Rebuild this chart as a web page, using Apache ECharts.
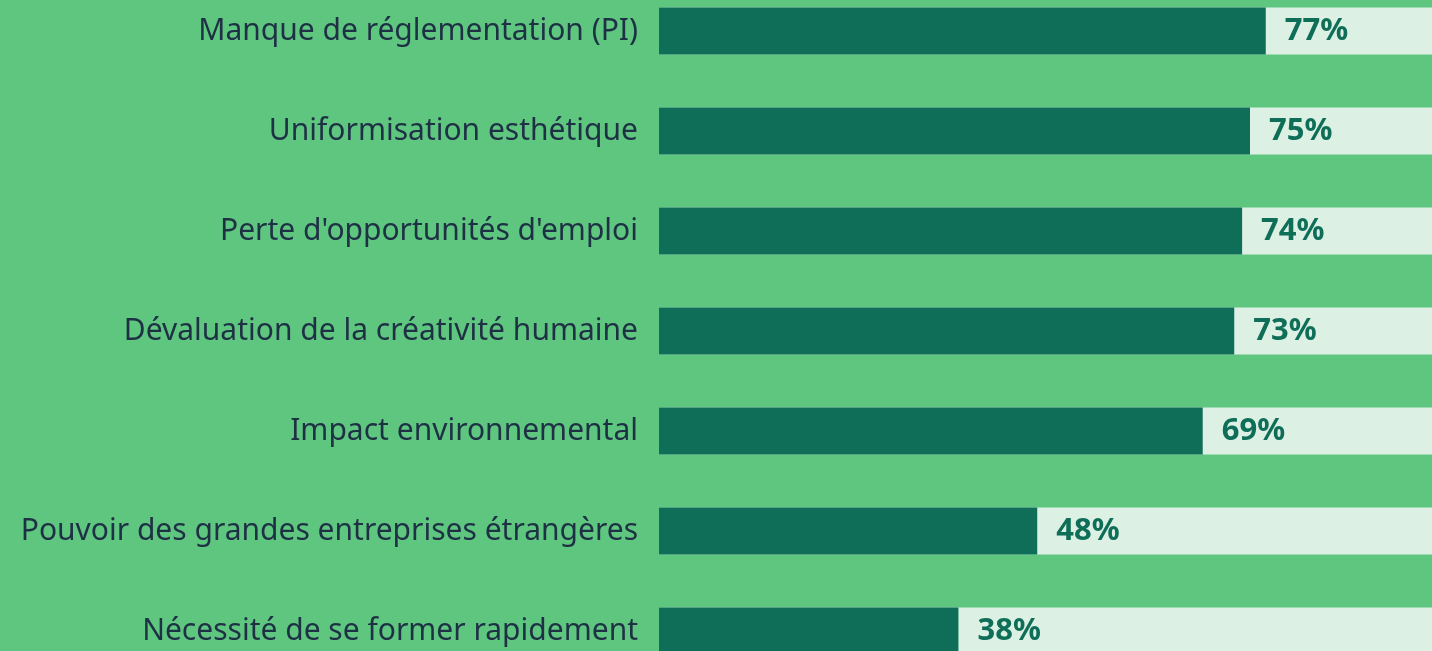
<!DOCTYPE html>
<html>
<head>
<meta charset="utf-8">
<style>
  html, body { margin: 0; padding: 0; background: #5fc680; }
  #chart { width: 1432px; height: 651px; }
</style>
<script src="https://cdn.jsdelivr.net/npm/echarts@6/dist/echarts.min.js"></script>
</head>
<body>
<div id="chart"></div>
<script>
  // catégories et valeurs (%)
  const categories = [
    "Manque de réglementation (PI)",
    "Uniformisation esthétique",
    "Perte d'opportunités d'emploi",
    "Dévaluation de la créativité humaine",
    "Impact environnemental",
    "Pouvoir des grandes entreprises étrangères",
    "Nécessité de se former rapidement"
  ];
  const values = [77, 75, 74, 73, 69, 48, 38];

  const chart = echarts.init(document.getElementById("chart"));
  chart.setOption({
    backgroundColor: "#5fc680",
    animation: false,
    grid: {
      left: 659,
      width: 788,
      top: -19,
      height: 700,
      outerBoundsMode: "none",
      containLabel: false
    },
    xAxis: {
      type: "value",
      min: 0,
      max: 100,
      show: false
    },
    yAxis: {
      type: "category",
      inverse: true,
      data: categories,
      axisLine: { show: false },
      axisTick: { show: false },
      axisLabel: {
        margin: 21,
        color: "#1e3044",
        fontSize: 30,
        fontFamily: "Noto Sans"
      }
    },
    series: [
      {
        type: "bar",
        data: values,
        barWidth: 47,
        itemStyle: { color: "#0e6e58" },
        showBackground: true,
        backgroundStyle: { color: "#dcf0e3" },
        label: {
          show: true,
          position: "right",
          distance: 19,
          formatter: "{c}%",
          color: "#0e6e58",
          fontSize: 31,
          fontWeight: "bold",
          fontFamily: "Noto Sans"
        }
      }
    ]
  });
</script>
</body>
</html>
